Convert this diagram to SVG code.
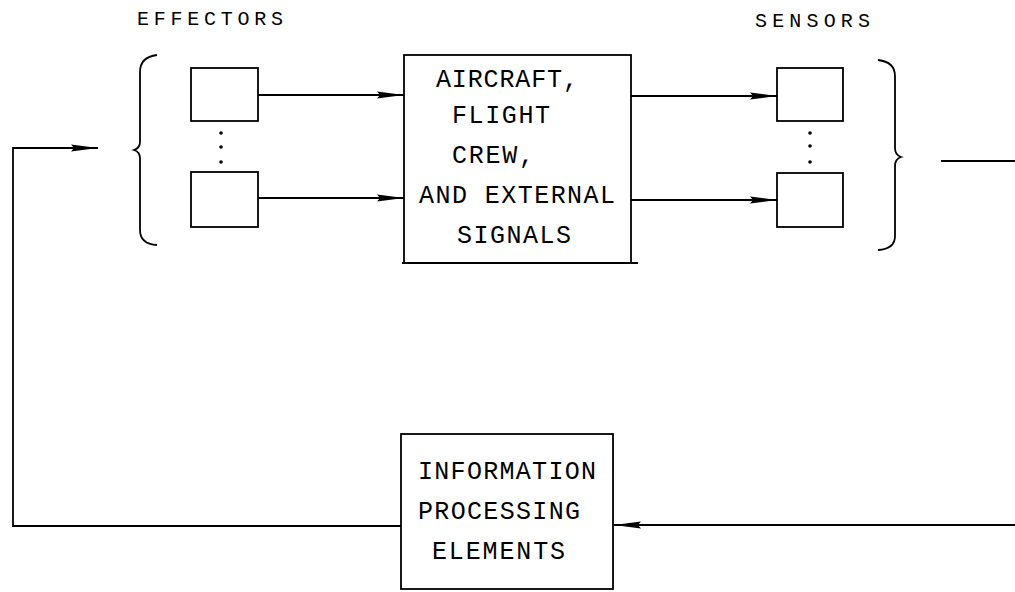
<svg xmlns="http://www.w3.org/2000/svg" width="1015" height="592" viewBox="0 0 1015 592">
<style>
.box{fill:none;stroke:#000;stroke-width:1.8}
.ln{fill:none;stroke:#000;stroke-width:1.8}
.t{font-family:"Liberation Mono","DejaVu Sans Mono",monospace;font-size:25px;fill:#000}
.h{font-family:"Liberation Mono","DejaVu Sans Mono",monospace;font-size:20px;fill:#000}
.dot{fill:#000}
</style>
<defs>
<marker id="arr" markerUnits="userSpaceOnUse" markerWidth="28" markerHeight="10" refX="27" refY="5" orient="auto">
<path d="M0,1.5 L27,5 L0,8.5 L3,5 z" fill="#000"/>
</marker>
</defs>
<rect width="1015" height="592" fill="#fff"/>
<g id="labels">
<text class="h" x="137" y="25" textLength="146" lengthAdjust="spacing">EFFECTORS</text>
<text class="h" x="755" y="27" textLength="115" lengthAdjust="spacing">SENSORS</text>
</g>
<g id="effectors">
<path class="ln" d="M157,55 Q140,57 140,72 L140,142 Q140,148 134,150 Q140,152 140,158 L140,230 Q140,244 157,245"/>
<g id="effector1"><rect class="box" x="191" y="68" width="67" height="53"/></g>
<g id="effector2"><rect class="box" x="191" y="172" width="67" height="55"/></g>
<circle class="dot" cx="221" cy="133" r="1.8"/>
<circle class="dot" cx="221" cy="147" r="1.8"/>
<circle class="dot" cx="221" cy="162" r="1.8"/>
</g>
<g id="aircraft">
<rect class="box" x="404" y="55" width="227" height="208"/>
<line class="ln" x1="402" y1="263" x2="638" y2="263"/>
<text class="t" x="436" y="87" textLength="142" lengthAdjust="spacing">AIRCRAFT,</text>
<text class="t" x="452" y="123" textLength="98" lengthAdjust="spacing">FLIGHT</text>
<text class="t" x="452" y="163" textLength="82" lengthAdjust="spacing">CREW,</text>
<text class="t" x="419" y="203" textLength="196" lengthAdjust="spacing">AND EXTERNAL</text>
<text class="t" x="457" y="243" textLength="114" lengthAdjust="spacing">SIGNALS</text>
</g>
<g id="sensors">
<path class="ln" d="M878,60 Q895,62 895,76 L895,148 Q895,155 901,157 Q895,159 895,166 L895,236 Q895,249 878,250"/>
<g id="sensor1"><rect class="box" x="777" y="68" width="66" height="53"/></g>
<g id="sensor2"><rect class="box" x="777" y="173" width="66" height="54"/></g>
<circle class="dot" cx="810" cy="133" r="1.8"/>
<circle class="dot" cx="810" cy="146" r="1.8"/>
<circle class="dot" cx="810" cy="162" r="1.8"/>
</g>
<g id="processing">
<rect class="box" x="401" y="434" width="212" height="155"/>
<text class="t" x="418" y="479" textLength="178" lengthAdjust="spacing">INFORMATION</text>
<text class="t" x="418" y="519" textLength="162" lengthAdjust="spacing">PROCESSING</text>
<text class="t" x="432" y="559" textLength="133" lengthAdjust="spacing">ELEMENTS</text>
</g>
<g id="connectors">
<line class="ln" x1="258" y1="95" x2="404" y2="95" marker-end="url(#arr)"/>
<line class="ln" x1="258" y1="198" x2="404" y2="198" marker-end="url(#arr)"/>
<line class="ln" x1="631" y1="96" x2="777" y2="96" marker-end="url(#arr)"/>
<line class="ln" x1="631" y1="200" x2="777" y2="200" marker-end="url(#arr)"/>
<line class="ln" x1="941" y1="161" x2="1015" y2="161"/>
<line class="ln" x1="1015" y1="525" x2="614" y2="525" marker-end="url(#arr)"/>
<polyline class="ln" points="401,526 13,526 13,148 98,148" marker-end="url(#arr)"/>
</g>
</svg>
